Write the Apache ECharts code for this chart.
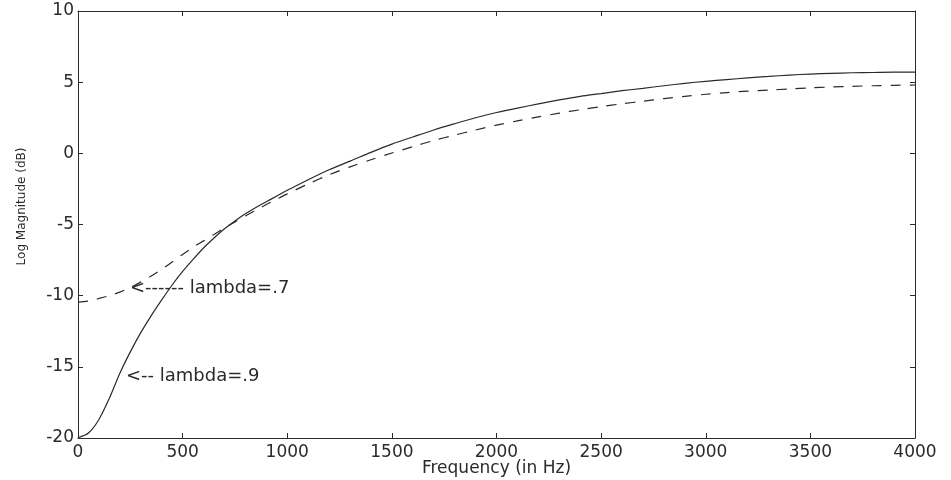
<!DOCTYPE html>
<html>
<head>
<meta charset="utf-8">
<script src="https://cdn.jsdelivr.net/npm/echarts@6/dist/echarts.min.js"></script>
<style>
    html, body { margin: 0; padding: 0; background: #fff; }
    #chart { width: 951px; height: 480px; }
</style>
</head>
<body>
<div id="chart"></div>
<script>
// frequency samples (Hz): every 50 Hz up to 1000, then every 100 Hz
const freq = [
    0, 50, 100, 150, 200, 250, 300, 350, 400, 450,
    500, 550, 600, 650, 700, 750, 800, 850, 900, 950,
    1000, 1100, 1200, 1300, 1400, 1500, 1600, 1700, 1800, 1900,
    2000, 2100, 2200, 2300, 2400, 2500, 2600, 2700, 2800, 2900,
    3000, 3100, 3200, 3300, 3400, 3500, 3600, 3700, 3800, 3900, 4000,
];
// log magnitude (dB), lambda = .9 (solid)
const lambda9 = [
    -19.98, -19.65, -18.7, -17.2, -15.45, -13.95, -12.6, -11.4, -10.3, -9.25,
    -8.3, -7.45, -6.65, -5.95, -5.3, -4.75, -4.25, -3.8, -3.4, -3.0,
    -2.6, -1.85, -1.15, -0.55, 0.07, 0.65, 1.15, 1.64, 2.08, 2.5,
    2.87, 3.18, 3.47, 3.75, 4.0, 4.2, 4.4, 4.57, 4.75, 4.92,
    5.06, 5.18, 5.3, 5.4, 5.5, 5.57, 5.62, 5.66, 5.68, 5.7, 5.7,
];
// log magnitude (dB), lambda = .7 (dashed)
const lambda7 = [
    -10.45, -10.38, -10.2, -10.0, -9.75, -9.42, -9.05, -8.62, -8.15, -7.63,
    -7.1, -6.6, -6.15, -5.7, -5.25, -4.82, -4.4, -4.0, -3.6, -3.22,
    -2.85, -2.15, -1.5, -0.95, -0.45, 0.02, 0.47, 0.9, 1.28, 1.64,
    1.98, 2.28, 2.56, 2.82, 3.06, 3.28, 3.48, 3.66, 3.85, 4.0,
    4.15, 4.27, 4.37, 4.45, 4.52, 4.6, 4.66, 4.71, 4.75, 4.78, 4.8,
];
// annotation anchors [Hz, dB]
const note7 = [248, -9.45];
const note9 = [229, -15.65];

const font = "DejaVu Sans";
const ink = "#2a2a2a";

const pairs = (ys) => freq.map((f, i) => [f, ys[i]]);

const tickStyle = { show: true, inside: true, length: 5, lineStyle: { color: ink, width: 1 } };
const lineAxis = { show: true, onZero: false, lineStyle: { color: ink, width: 1 } };

const noteLabel = (text) => ({
    show: true,
    position: "right",
    distance: 0,
    formatter: text,
    fontFamily: font,
    fontSize: 18,
    color: ink,
});

const option = {
    animation: false,
    backgroundColor: "#fff",
    grid: { left: 78, right: 36, top: 11, bottom: 42, containLabel: false, outerBoundsMode: "none" },
    xAxis: [
        {
            type: "value",
            min: 0,
            max: 4000,
            interval: 500,
            axisLine: lineAxis,
            axisTick: tickStyle,
            splitLine: { show: false },
            axisLabel: { fontFamily: font, fontSize: 17, color: ink, margin: 6, formatter: (v) => String(v) },
            name: "Frequency (in Hz)",
            nameLocation: "middle",
            nameGap: 22,
            nameMoveOverlap: false,
            nameTextStyle: { fontFamily: font, fontSize: 17, color: ink },
        },
        {
            type: "value",
            position: "top",
            min: 0,
            max: 4000,
            interval: 500,
            axisLine: lineAxis,
            axisTick: tickStyle,
            splitLine: { show: false },
            axisLabel: { show: false },
        },
    ],
    yAxis: [
        {
            type: "value",
            min: -20,
            max: 10,
            interval: 5,
            axisLine: lineAxis,
            axisTick: tickStyle,
            splitLine: { show: false },
            axisLabel: { fontFamily: font, fontSize: 17, color: ink, margin: 4, formatter: (v) => String(v) },
            name: "Log Magnitude (dB)",
            nameLocation: "middle",
            nameGap: 50,
            nameTextStyle: { fontFamily: font, fontSize: 12, color: ink, padding: [0, 0, 0, 36] },
        },
        {
            type: "value",
            position: "right",
            min: -20,
            max: 10,
            interval: 5,
            axisLine: lineAxis,
            axisTick: tickStyle,
            splitLine: { show: false },
            axisLabel: { show: false },
        },
    ],
    series: [
        {
            name: "lambda=.9",
            type: "line",
            smooth: 0.3,
            symbol: "none",
            data: pairs(lambda9),
            lineStyle: { color: ink, width: 1.2 },
            markPoint: {
                symbol: "circle",
                symbolSize: 0,
                silent: true,
                data: [{ coord: note9, label: noteLabel("<-- lambda=.9") }],
            },
        },
        {
            name: "lambda=.7",
            type: "line",
            smooth: 0.3,
            symbol: "none",
            data: pairs(lambda7),
            lineStyle: { color: ink, width: 1.2, type: [10, 9] },
            markPoint: {
                symbol: "circle",
                symbolSize: 0,
                silent: true,
                data: [{ coord: note7, label: noteLabel("<------ lambda=.7") }],
            },
        },
    ],
};

const chart = echarts.init(document.getElementById("chart"));
chart.setOption(option);
</script>
</body>
</html>
